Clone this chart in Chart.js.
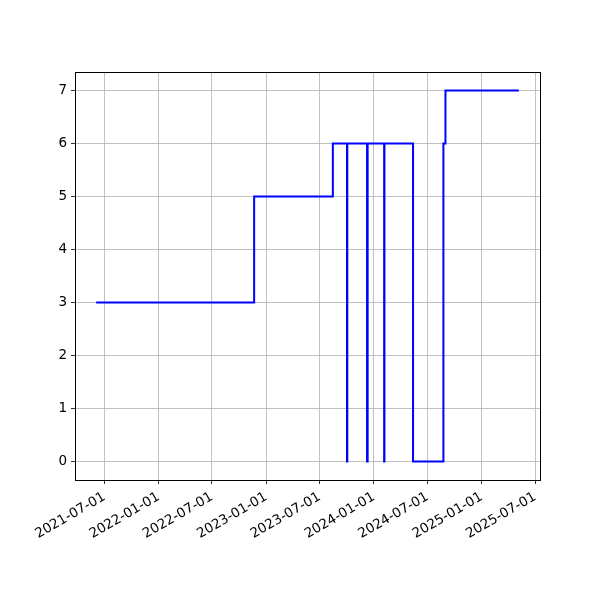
<!DOCTYPE html>
<html>
<head>
<meta charset="utf-8">
<script src="https://cdn.jsdelivr.net/npm/chart.js@4/dist/chart.umd.min.js"></script>
<style>
  html, body { margin: 0; padding: 0; background: #fff; }
  #wrap { width: 600px; height: 600px; }
</style>
</head>
<body>
<div id="wrap"><canvas id="stepChart" width="600" height="600"></canvas></div>
<script>
// change dates and the value that holds from each date on
const dates = ['2021-06-03', '2022-11-21', '2023-08-15', '2023-10-02', '2023-10-03',
  '2023-12-09', '2023-12-11', '2024-02-05', '2024-02-06', '2024-05-13',
  '2024-08-24', '2024-08-31', '2025-05-07'];
const values = [3, 5, 6, 0, 6, 0, 6, 0, 6, 0, 6, 7, 7];
const xTickLabels = ['2021-07-01', '2022-01-01', '2022-07-01', '2023-01-01', '2023-07-01',
  '2024-01-01', '2024-07-01', '2025-01-01', '2025-07-01'];
const yTickValues = [0, 1, 2, 3, 4, 5, 6, 7];

function toMs(d) {
  let p = d.split('-');
  return Date.UTC(+p[0], +p[1] - 1, +p[2]);
}
function fmt(ms) {
  let d = new Date(ms);
  let m = String(d.getUTCMonth() + 1).padStart(2, '0');
  let day = String(d.getUTCDate()).padStart(2, '0');
  return d.getUTCFullYear() + '-' + m + '-' + day;
}

let points = [];
for (let i = 0; i < dates.length; i++) {
  points.push({ x: toMs(dates[i]), y: values[i] });
}
let xs = points.map(p => p.x);
let xSpan = Math.max(...xs) - Math.min(...xs);
let xMin = Math.min(...xs) - xSpan * 0.05;
let xMax = Math.max(...xs) + xSpan * 0.05;

const frameBox = {
  id: 'frameBox',
  afterDraw(chart) {
    let a = chart.chartArea;
    let ctx = chart.ctx;
    ctx.save();
    ctx.strokeStyle = '#000';
    ctx.lineWidth = 1;
    ctx.strokeRect(Math.round(a.left) + 0.5, Math.round(a.top) + 0.5,
      Math.round(a.right - a.left), Math.round(a.bottom - a.top));
    ctx.restore();
  }
};

Chart.defaults.font.family = 'DejaVu Sans';
Chart.defaults.font.size = 13.5;
Chart.defaults.color = '#000';

let ctx = document.getElementById('stepChart').getContext('2d');
let stepChart = new Chart(ctx, {
  type: 'line',
  data: {
    datasets: [{
      data: points,
      borderColor: '#0000ff',
      borderWidth: 2,
      pointRadius: 0,
      stepped: 'before',
      fill: false
    }]
  },
  options: {
    responsive: false,
    animation: false,
    layout: { padding: { left: 0, top: 72, right: 60, bottom: 0 } },
    plugins: { legend: { display: false }, tooltip: { enabled: false } },
    scales: {
      x: {
        type: 'linear',
        min: xMin,
        max: xMax,
        afterBuildTicks: (axis) => {
          axis.ticks = xTickLabels.map(t => ({ value: toMs(t) }));
        },
        afterFit: (axis) => { axis.height = 120; },
        ticks: {
          autoSkip: false,
          minRotation: 30,
          maxRotation: 30,
          padding: 5,
          callback: (v) => fmt(v)
        },
        grid: { color: '#b0b0b0', lineWidth: 0.8, tickColor: '#000', tickLength: 4 },
        border: { color: '#000', width: 1 }
      },
      y: {
        min: -0.35,
        max: 7.35,
        afterBuildTicks: (axis) => {
          axis.ticks = yTickValues.map(v => ({ value: v }));
        },
        afterFit: (axis) => { axis.width = 75; },
        ticks: { padding: 4, callback: (v) => String(v) },
        grid: { color: '#b0b0b0', lineWidth: 0.8, tickColor: '#000', tickLength: 4 },
        border: { color: '#000', width: 1 }
      }
    }
  },
  plugins: [frameBox]
});
</script>
</body>
</html>
